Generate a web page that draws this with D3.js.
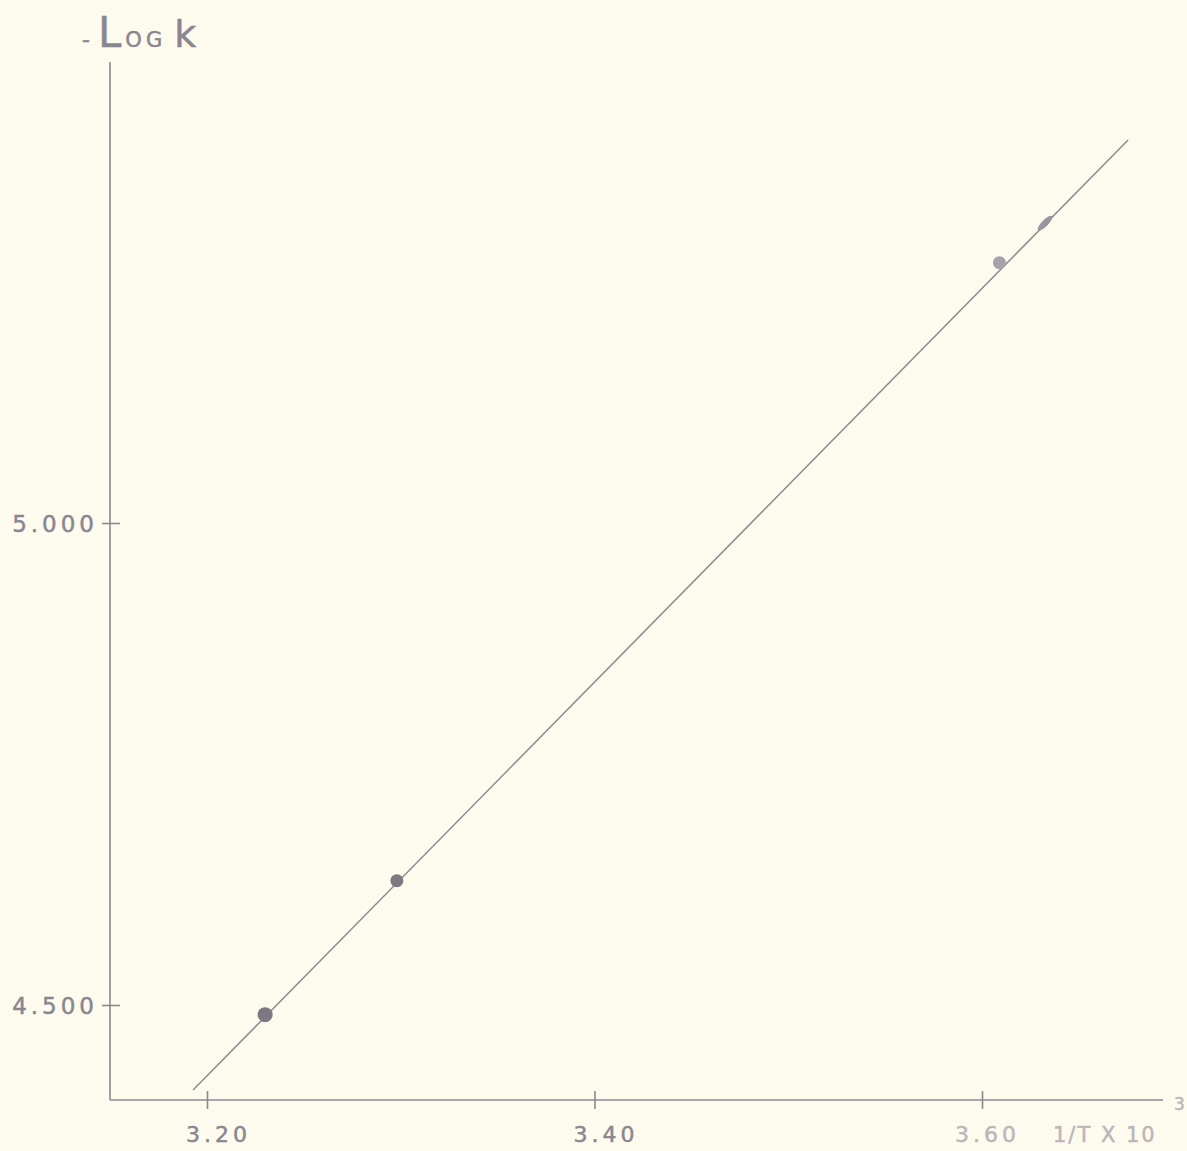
<!DOCTYPE html>
<html>
<head>
<meta charset="utf-8">
<script src="https://cdn.jsdelivr.net/npm/d3@7"></script>
<style>
  html, body { margin: 0; padding: 0; background: #fdfbee; }
  svg { display: block; }
  text { font-family: "DejaVu Sans", sans-serif; fill: #8a8690; stroke: #8a8690; stroke-width: 0.5px; }
</style>
</head>
<body>
<script>
// data: 1/T x 10^3 vs -log k
const invT = [3.23, 3.298, 3.609];
const negLogK = [4.49, 4.629, 5.27];
// oblong mark on the upper end of the line
const markX = [3.6325];
const markY = [5.311];
// fitted line ends
const fitX = [3.1928, 3.6754];
const fitY = [4.4118, 5.3973];
const xTicks = [3.20, 3.40, 3.60];
const yTicks = [4.5, 5.0];
const xTickLabels = ["3.20", "3.40", "3.60"];
const yTickLabels = ["4.500", "5.000"];

const W = 1187, H = 1151;
const axisX = 110, axisY = 1100;

const svg = d3.select("body").append("svg")
    .attr("width", W)
    .attr("height", H);

svg.append("rect").attr("width", W).attr("height", H).attr("fill", "#fdfbee");

const x = d3.scaleLinear().domain([3.20, 3.60]).range([207, 982]);
const y = d3.scaleLinear().domain([4.5, 5.0]).range([1005, 523]);

const ink = "#8c8890";

// axis lines
svg.append("line")
    .attr("x1", axisX).attr("y1", 62).attr("x2", axisX).attr("y2", axisY)
    .attr("stroke", ink).attr("stroke-width", 1.6);
svg.append("line")
    .attr("x1", axisX).attr("y1", axisY).attr("x2", 1163).attr("y2", axisY)
    .attr("stroke", ink).attr("stroke-width", 1.6);

// x axis
const gx = svg.append("g")
    .attr("transform", "translate(0," + axisY + ")")
    .call(d3.axisBottom(x).tickValues(xTicks).tickSize(0).tickFormat((d, i) => xTickLabels[i]));
gx.select(".domain").remove();
gx.selectAll(".tick line")
    .attr("y1", -9).attr("y2", 9)
    .attr("stroke", ink).attr("stroke-width", 1.6);
gx.selectAll(".tick text")
    .attr("y", 42).attr("dy", 0)
    .attr("dx", (d, i) => i < 2 ? 11 : 5)
    .style("font-size", "22px")
    .style("letter-spacing", "4px")
    .style("fill", (d, i) => i === 2 ? "#bbb6b8" : "#8a8690")
    .style("stroke", (d, i) => i === 2 ? "#bbb6b8" : "#8a8690")
    .attr("font-family", null);

// y axis
const gy = svg.append("g")
    .attr("transform", "translate(" + axisX + ",0)")
    .call(d3.axisLeft(y).tickValues(yTicks).tickSize(0).tickFormat((d, i) => yTickLabels[i]));
gy.select(".domain").remove();
gy.selectAll(".tick line")
    .attr("x1", -8).attr("x2", 10)
    .attr("stroke", ink).attr("stroke-width", 1.6);
gy.selectAll(".tick text")
    .attr("x", -12).attr("dy", "0.36em")
    .style("font-size", "23px")
    .style("letter-spacing", "4px")
    .attr("font-family", null);

// fitted line
svg.append("line")
    .attr("x1", x(fitX[0])).attr("y1", y(fitY[0]))
    .attr("x2", x(fitX[1])).attr("y2", y(fitY[1]))
    .attr("stroke", "#8e8a92").attr("stroke-width", 1.5);

// data points
svg.append("g")
    .selectAll("circle")
    .data(invT.map((v, i) => ({ x: v, y: negLogK[i] })))
    .enter()
    .append("circle")
    .attr("cx", d => x(d.x))
    .attr("cy", d => y(d.y))
    .attr("r", (d, i) => i === 0 ? 7.5 : 6.5)
    .attr("fill", (d, i) => i === 2 ? "#a8a3aa" : "#7d7983");

svg.append("g")
    .selectAll("ellipse")
    .data(markX.map((v, i) => ({ x: v, y: markY[i] })))
    .enter()
    .append("ellipse")
    .attr("transform", d => "translate(" + x(d.x) + "," + y(d.y) + ") rotate(-45.5)")
    .attr("rx", 10).attr("ry", 3.2)
    .attr("fill", "#9a95a0");

// axis titles
const title = svg.append("text")
    .attr("x", 82).attr("y", 47)
    .style("letter-spacing", "4px");
title.append("tspan").text("-").style("font-size", "22px");
title.append("tspan").text("L").style("font-size", "42px").attr("dx", 4);
title.append("tspan").text("OG").style("font-size", "21px");
title.append("tspan").text("k").style("font-size", "38px").attr("dx", 8);

svg.append("text")
    .attr("x", 1053).attr("y", 1142)
    .style("font-size", "21px")
    .style("letter-spacing", "2px")
    .style("fill", "#bbb6b8")
    .style("stroke", "#bbb6b8")
    .text("1/T X 10");
svg.append("text")
    .attr("x", 1174).attr("y", 1110)
    .style("font-size", "17px")
    .style("fill", "#bbb6b8")
    .style("stroke", "#bbb6b8")
    .text("3");
</script>
</body>
</html>
